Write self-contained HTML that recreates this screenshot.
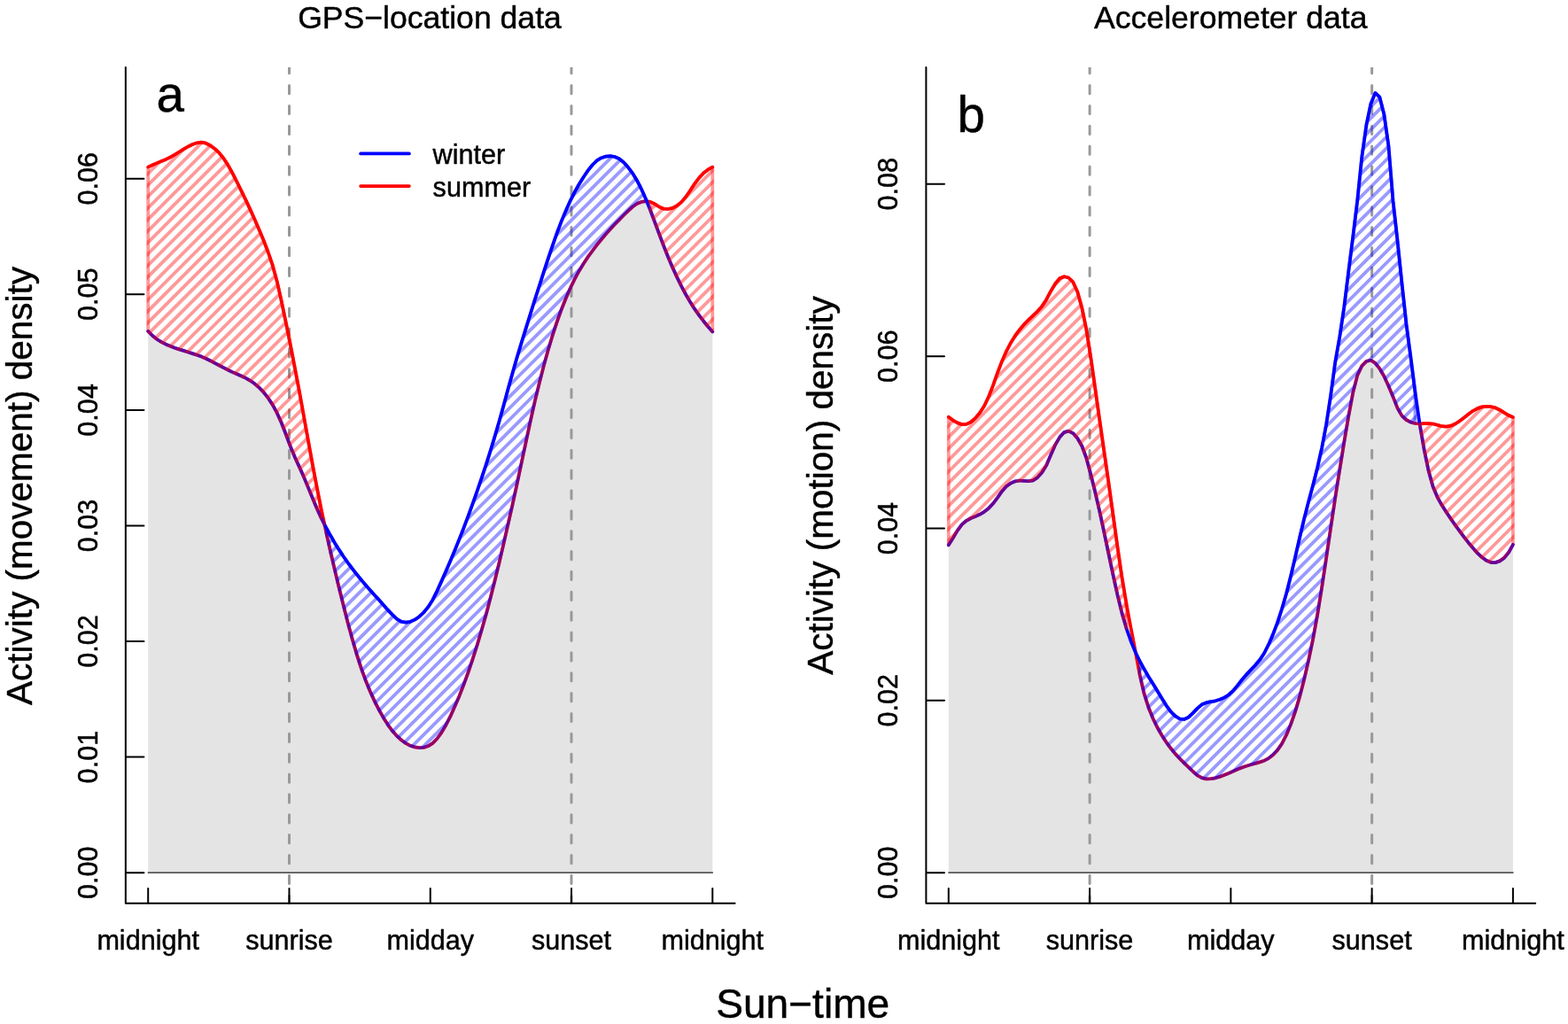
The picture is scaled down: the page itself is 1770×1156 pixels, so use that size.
<!DOCTYPE html>
<html lang="en"><head><meta charset="utf-8"><title>Activity density: GPS-location vs accelerometer data</title>
<style>
html,body{margin:0;padding:0;background:#fff;}
body{width:1770px;height:1156px;overflow:hidden;font-family:"Liberation Sans",Arial,Helvetica,sans-serif;}
svg{display:block;}
text{font-family:"Liberation Sans",Arial,Helvetica,sans-serif;stroke:#000;stroke-width:0.45px;stroke-linejoin:round;}
</style></head><body>
<svg width="1770" height="1156" viewBox="0 0 1770 1156" font-family="'Liberation Sans', Arial, Helvetica, sans-serif" fill="#000">
<defs><clipPath id="plotclip"><rect x="0" y="76" width="1770" height="945.0"/></clipPath>
<path id="pmar0" d="M167.2,188.6L172.2,186.3L177.2,184.1L182.2,182L187.3,179.9L192.3,177.5L197.3,174.7L202.3,171.5L207.3,168.4L212.3,165.5L217.4,163L222.4,161.3L227.4,160.7L232.4,161.7L237.4,164.2L242.4,167.9L247.5,172.7L252.5,178.9L257.5,186.6L262.5,195.7L267.5,205.5L272.5,215.7L277.6,226.1L282.6,236.9L287.6,248L292.6,259.5L297.6,271.5L302.6,284.5L307.7,299.4L312.7,317.7L317.7,339.9L322.7,363.8L327.7,388.7L332.7,414.6L337.8,441.4L342.8,469L347.8,496.8L352.8,524.3L357.8,550.7L362.8,575.9L366.2,591.8L366.2,591.8L362.8,585.1L357.8,574.2L352.8,562.3L347.8,550.1L342.8,538.1L337.8,526.9L332.7,515.7L327.7,503.6L322.7,490.2L317.7,477.3L312.7,466.2L307.7,456.9L302.6,449.2L297.6,442.8L292.6,437.6L287.6,433.3L282.6,429.8L277.6,426.9L272.5,424.5L267.5,422.3L262.5,420.1L257.5,417.7L252.5,415.1L247.5,412.5L242.4,409.8L237.4,407.2L232.4,404.8L227.4,402.6L222.4,400.7L217.4,399.1L212.3,397.5L207.3,395.9L202.3,394.4L197.3,392.7L192.3,390.8L187.3,388.7L182.2,386.1L177.2,383L172.2,379L167.2,373.9Z"/>
<clipPath id="mar0"><use href="#pmar0"/><use href="#pmar0" transform="translate(1.34,-1.34)"/><use href="#pmar0" transform="translate(-1.34,1.34)"/><use href="#pmar0" transform="translate(0.67,-0.67)"/><use href="#pmar0" transform="translate(-0.67,0.67)"/></clipPath>
<path id="pmar1" d="M734.1,227.9L739.1,230.3L744.1,233.5L749.1,235.7L754.1,236L759.2,234.8L764.2,232.2L769.2,228.1L774.2,222.2L779.2,215L784.2,207.3L789.3,200.6L794.3,195.3L799.3,191.4L804.3,188.6L804.3,374.4L799.3,368.8L794.3,362.7L789.3,356.1L784.2,348.9L779.2,341.1L774.2,332.5L769.2,323.1L764.2,312.9L759.2,301.9L754.1,290L749.1,277.3L744.1,264.1L739.1,250.7L734.1,237.3Z"/>
<clipPath id="mar1"><use href="#pmar1"/><use href="#pmar1" transform="translate(1.34,-1.34)"/><use href="#pmar1" transform="translate(-1.34,1.34)"/><use href="#pmar1" transform="translate(0.67,-0.67)"/><use href="#pmar1" transform="translate(-0.67,0.67)"/></clipPath>
<path id="pmab0" d="M367.9,595.1L372.9,604.3L377.9,612.9L382.9,620.9L387.9,628.5L392.9,635.6L398,642.4L403,648.8L408,654.9L413,660.8L418,666.4L423,672L428.1,677.6L433.1,683.2L438.1,688.9L443.1,694.1L448.1,698.8L453.1,701.8L458.2,702.7L463.2,701.8L468.2,699.6L473.2,696.2L478.2,691.5L483.2,685.4L488.3,677.4L493.3,667.4L498.3,656.4L503.3,645.1L508.3,633.4L513.3,621.4L518.4,608.9L523.4,596.1L528.4,582.9L533.4,569.2L538.4,555L543.4,540.4L548.5,525.2L553.5,509.4L558.5,492.9L563.5,475.7L568.5,457.7L573.5,439.2L578.6,420.9L583.6,403.5L588.6,387L593.6,370.9L598.6,354.8L603.6,338.8L608.7,323L613.7,307.4L618.7,292.2L623.7,277.4L628.7,263.2L633.7,249.9L638.8,237.7L643.8,226.6L648.8,216.6L653.8,207.7L658.8,199.7L663.8,192.4L668.9,186L673.9,181.2L678.9,178.2L683.9,176.6L688.9,176.1L693.9,177L699,179.3L704,183.3L709,188.8L714,195.5L719,203.7L724,213.4L729.1,224.7L729.1,227.2L724,227.9L719,230L714,233.5L709,238.1L704,243L699,248.1L693.9,253.3L688.9,258.7L683.9,264.3L678.9,270.2L673.9,276.4L668.9,283L663.8,289.9L658.8,297.5L653.8,305.7L648.8,314.9L643.8,325.2L638.8,336.7L633.7,349.5L628.7,363.4L623.7,378.7L618.7,395.3L613.7,413.4L608.7,432.9L603.6,453.8L598.6,476.1L593.6,499.3L588.6,522.9L583.6,546.3L578.6,569.4L573.5,591.9L568.5,613.9L563.5,635.2L558.5,655.8L553.5,675.6L548.5,694.4L543.4,712.2L538.4,729L533.4,744.7L528.4,759.4L523.4,773.1L518.4,785.9L513.3,797.8L508.3,808.9L503.3,818.7L498.3,827.1L493.3,834L488.3,839.1L483.2,842.3L478.2,843.9L473.2,844.1L468.2,843.4L463.2,841.8L458.2,839.1L453.1,835.5L448.1,830.9L443.1,825.3L438.1,818.6L433.1,810.7L428.1,801.8L423,791.9L418,781L413,768.8L408,755.1L403,739.7L398,722.6L392.9,704L387.9,684.3L382.9,664.2L377.9,643.4L372.9,622L367.9,599.6Z"/>
<clipPath id="mab0"><use href="#pmab0"/><use href="#pmab0" transform="translate(1.34,-1.34)"/><use href="#pmab0" transform="translate(-1.34,1.34)"/><use href="#pmab0" transform="translate(0.67,-0.67)"/><use href="#pmab0" transform="translate(-0.67,0.67)"/></clipPath>
<path id="pmbr0" d="M1070.8,470.7L1075.8,474.6L1080.8,477.4L1085.8,479.1L1090.9,478.9L1095.9,476.5L1100.9,472.1L1105.9,466.2L1110.9,458.5L1115.9,448.2L1121,435.1L1126,420.9L1131,407.9L1136,396.6L1141,387L1146,378.9L1151.1,372L1156.1,366.1L1161.1,361L1166.1,356.4L1171.1,351.6L1176.1,345.9L1181.2,338.2L1186.2,328.7L1191.2,320.3L1196.2,314.3L1201.2,312.2L1206.2,313.5L1211.3,318.4L1216.3,329.6L1221.3,347.5L1226.3,371.9L1231.3,403.5L1236.3,438.7L1241.4,475L1246.4,510L1251.4,544.7L1256.4,580.8L1261.4,617.1L1266.4,651.2L1271.5,681.8L1271.5,709.3L1266.4,691.9L1261.4,671.4L1256.4,648.7L1251.4,625L1246.4,601.1L1241.4,577.8L1236.3,555.8L1231.3,535.5L1226.3,517L1221.3,503.5L1216.3,494.8L1211.3,489.1L1206.2,486.6L1201.2,488.1L1196.2,493.6L1191.2,502.1L1186.2,513.6L1181.2,525.3L1176.1,533.5L1171.1,539.1L1166.1,542.3L1161.1,543.1L1156.1,542.8L1151.1,542.5L1146,543.3L1141,545.4L1136,549.1L1131,554.7L1126,561.8L1121,568.5L1115.9,573.9L1110.9,577.8L1105.9,580.8L1100.9,583.1L1095.9,585L1090.9,587.8L1085.8,592.1L1080.8,598.9L1075.8,607.3L1070.8,615.3Z"/>
<clipPath id="mbr0"><use href="#pmbr0"/><use href="#pmbr0" transform="translate(1.34,-1.34)"/><use href="#pmbr0" transform="translate(-1.34,1.34)"/><use href="#pmbr0" transform="translate(0.67,-0.67)"/><use href="#pmbr0" transform="translate(-0.67,0.67)"/></clipPath>
<path id="pmbr1" d="M1602.6,478.3L1607.6,478.1L1612.6,478L1617.6,478.5L1622.6,479.8L1627.6,481.2L1632.7,481.7L1637.7,480.7L1642.7,478.5L1647.7,475.3L1652.7,471.5L1657.7,467.5L1662.8,463.8L1667.8,461.1L1672.8,459.4L1677.8,458.8L1682.8,459L1687.8,460.3L1692.9,462.7L1697.9,465.8L1702.9,468.8L1707.9,471L1707.9,614.8L1702.9,623.8L1697.9,629.9L1692.9,633.4L1687.8,635.1L1682.8,634.8L1677.8,632.7L1672.8,629.1L1667.8,624.4L1662.8,618.8L1657.7,612.7L1652.7,606.4L1647.7,599.7L1642.7,592.8L1637.7,585.6L1632.7,578.2L1627.6,570.3L1622.6,561.3L1617.6,549.4L1612.6,531.6L1607.6,507.4L1602.6,478.8Z"/>
<clipPath id="mbr1"><use href="#pmbr1"/><use href="#pmbr1" transform="translate(1.34,-1.34)"/><use href="#pmbr1" transform="translate(-1.34,1.34)"/><use href="#pmbr1" transform="translate(0.67,-0.67)"/><use href="#pmbr1" transform="translate(-0.67,0.67)"/></clipPath>
<path id="pmbb0" d="M1286.5,746.1L1291.5,755.3L1296.5,763.9L1301.6,772.1L1306.6,780.3L1311.6,788.5L1316.6,796.6L1321.6,803.4L1326.6,808.4L1331.7,811.5L1336.7,812L1341.7,809.7L1346.7,804.9L1351.7,799.6L1356.7,795.3L1361.8,793.2L1366.8,792.2L1371.8,791.3L1376.8,789.8L1381.8,787.6L1386.8,784.5L1391.9,779.9L1396.9,773.9L1401.9,767.4L1406.9,761.6L1411.9,756.3L1416.9,751L1422,745.1L1427,737.5L1432,727.7L1437,716.1L1442,702.8L1447,687.5L1452.1,670L1457.1,650.3L1462.1,628.8L1467.1,607L1472.1,585.9L1477.1,566.4L1482.2,547.5L1487.2,527.7L1492.2,505.3L1497.2,478.9L1502.2,446L1507.2,409.1L1512.3,380L1517.3,346.5L1522.3,306.3L1527.3,267.1L1532.3,226L1537.3,177.2L1542.4,141.2L1547.4,117.2L1552.4,104.9L1557.4,109.7L1562.4,129.2L1567.4,164.4L1572.5,226.7L1577.5,271.6L1582.5,319.9L1587.5,365.9L1592.5,403.7L1597.5,442.9L1597.5,478L1592.5,476.7L1587.5,474L1582.5,469.4L1577.5,460.6L1572.5,447.9L1567.4,435.7L1562.4,424.7L1557.4,416.2L1552.4,409.9L1547.4,406.7L1542.4,407.9L1537.3,413.1L1532.3,423.6L1527.3,443.1L1522.3,469.6L1517.3,499.1L1512.3,530L1507.2,562.2L1502.2,595.5L1497.2,629.5L1492.2,662.8L1487.2,693.6L1482.2,721.2L1477.1,745.6L1472.1,767.3L1467.1,786.6L1462.1,803.4L1457.1,817.6L1452.1,829.7L1447,839.6L1442,846.9L1437,852.3L1432,856.1L1427,858.7L1422,860.4L1416.9,861.9L1411.9,863.2L1406.9,864.8L1401.9,866.6L1396.9,868.5L1391.9,870.7L1386.8,872.9L1381.8,875L1376.8,876.9L1371.8,878.3L1366.8,879.2L1361.8,879.3L1356.7,878.1L1351.7,875.3L1346.7,871L1341.7,866.2L1336.7,861.3L1331.7,856.3L1326.6,850.9L1321.6,844.8L1316.6,838L1311.6,830.3L1306.6,821.5L1301.6,811.3L1296.5,798.8L1291.5,782.9L1286.5,761.3Z"/>
<clipPath id="mbb0"><use href="#pmbb0"/><use href="#pmbb0" transform="translate(1.34,-1.34)"/><use href="#pmbb0" transform="translate(-1.34,1.34)"/><use href="#pmbb0" transform="translate(0.67,-0.67)"/><use href="#pmbb0" transform="translate(-0.67,0.67)"/></clipPath></defs>
<rect width="1770" height="1156" fill="#fff"/>
<g id="panel-a">
<path d="M167.2,373.9L172.2,379L177.2,383L182.2,386.1L187.3,388.7L192.3,390.8L197.3,392.7L202.3,394.4L207.3,395.9L212.3,397.5L217.4,399.1L222.4,400.7L227.4,402.6L232.4,404.8L237.4,407.2L242.4,409.8L247.5,412.5L252.5,415.1L257.5,417.7L262.5,420.1L267.5,422.3L272.5,424.5L277.6,426.9L282.6,429.8L287.6,433.3L292.6,437.6L297.6,442.8L302.6,449.2L307.7,456.9L312.7,466.2L317.7,477.3L322.7,490.2L327.7,503.6L332.7,515.7L337.8,526.9L342.8,538.1L347.8,550.1L352.8,562.3L357.8,574.2L362.8,585.1L367.9,599.6L372.9,622L377.9,643.4L382.9,664.2L387.9,684.3L392.9,704L398,722.6L403,739.7L408,755.1L413,768.8L418,781L423,791.9L428.1,801.8L433.1,810.7L438.1,818.6L443.1,825.3L448.1,830.9L453.1,835.5L458.2,839.1L463.2,841.8L468.2,843.4L473.2,844.1L478.2,843.9L483.2,842.3L488.3,839.1L493.3,834L498.3,827.1L503.3,818.7L508.3,808.9L513.3,797.8L518.4,785.9L523.4,773.1L528.4,759.4L533.4,744.7L538.4,729L543.4,712.2L548.5,694.4L553.5,675.6L558.5,655.8L563.5,635.2L568.5,613.9L573.5,591.9L578.6,569.4L583.6,546.3L588.6,522.9L593.6,499.3L598.6,476.1L603.6,453.8L608.7,432.9L613.7,413.4L618.7,395.3L623.7,378.7L628.7,363.4L633.7,349.5L638.8,336.7L643.8,325.2L648.8,314.9L653.8,305.7L658.8,297.5L663.8,289.9L668.9,283L673.9,276.4L678.9,270.2L683.9,264.3L688.9,258.7L693.9,253.3L699,248.1L704,243L709,238.1L714,233.5L719,230L724,227.9L729.1,227.2L734.1,237.3L739.1,250.7L744.1,264.1L749.1,277.3L754.1,290L759.2,301.9L764.2,312.9L769.2,323.1L774.2,332.5L779.2,341.1L784.2,348.9L789.3,356.1L794.3,362.7L799.3,368.8L804.3,374.4L804.3,985.2L167.2,985.2Z" fill="#e4e4e4"/>
<line x1="166.7" y1="985.2" x2="804.9" y2="985.2" stroke="#1a1a1a" stroke-width="1.2"/>
<line x1="326.5" y1="1020.4" x2="326.5" y2="70" stroke="#999999" stroke-width="3.0" stroke-dasharray="9.2 13.667" stroke-linecap="round" clip-path="url(#plotclip)"/>
<line x1="645.0" y1="1020.4" x2="645.0" y2="70" stroke="#999999" stroke-width="3.0" stroke-dasharray="9.2 13.667" stroke-linecap="round" clip-path="url(#plotclip)"/>
<path d="M167.2,188.6L172.2,186.3L177.2,184.1L182.2,182L187.3,179.9L192.3,177.5L197.3,174.7L202.3,171.5L207.3,168.4L212.3,165.5L217.4,163L222.4,161.3L227.4,160.7L232.4,161.7L237.4,164.2L242.4,167.9L247.5,172.7L252.5,178.9L257.5,186.6L262.5,195.7L267.5,205.5L272.5,215.7L277.6,226.1L282.6,236.9L287.6,248L292.6,259.5L297.6,271.5L302.6,284.5L307.7,299.4L312.7,317.7L317.7,339.9L322.7,363.8L327.7,388.7L332.7,414.6L337.8,441.4L342.8,469L347.8,496.8L352.8,524.3L357.8,550.7L362.8,575.9L367.9,599.6L372.9,622L377.9,643.4L382.9,664.2L387.9,684.3L392.9,704L398,722.6L403,739.7L408,755.1L413,768.8L418,781L423,791.9L428.1,801.8L433.1,810.7L438.1,818.6L443.1,825.3L448.1,830.9L453.1,835.5L458.2,839.1L463.2,841.8L468.2,843.4L473.2,844.1L478.2,843.9L483.2,842.3L488.3,839.1L493.3,834L498.3,827.1L503.3,818.7L508.3,808.9L513.3,797.8L518.4,785.9L523.4,773.1L528.4,759.4L533.4,744.7L538.4,729L543.4,712.2L548.5,694.4L553.5,675.6L558.5,655.8L563.5,635.2L568.5,613.9L573.5,591.9L578.6,569.4L583.6,546.3L588.6,522.9L593.6,499.3L598.6,476.1L603.6,453.8L608.7,432.9L613.7,413.4L618.7,395.3L623.7,378.7L628.7,363.4L633.7,349.5L638.8,336.7L643.8,325.2L648.8,314.9L653.8,305.7L658.8,297.5L663.8,289.9L668.9,283L673.9,276.4L678.9,270.2L683.9,264.3L688.9,258.7L693.9,253.3L699,248.1L704,243L709,238.1L714,233.5L719,230L724,227.9L729.1,227.2L734.1,227.9L739.1,230.3L744.1,233.5L749.1,235.7L754.1,236L759.2,234.8L764.2,232.2L769.2,228.1L774.2,222.2L779.2,215L784.2,207.3L789.3,200.6L794.3,195.3L799.3,191.4L804.3,188.6" fill="none" stroke="#f00" stroke-width="3.75" stroke-linejoin="round" stroke-linecap="round"/>
<path d="M167.2,373.9L172.2,379L177.2,383L182.2,386.1L187.3,388.7L192.3,390.8L197.3,392.7L202.3,394.4L207.3,395.9L212.3,397.5L217.4,399.1L222.4,400.7L227.4,402.6L232.4,404.8L237.4,407.2L242.4,409.8L247.5,412.5L252.5,415.1L257.5,417.7L262.5,420.1L267.5,422.3L272.5,424.5L277.6,426.9L282.6,429.8L287.6,433.3L292.6,437.6L297.6,442.8L302.6,449.2L307.7,456.9L312.7,466.2L317.7,477.3L322.7,490.2L327.7,503.6L332.7,515.7L337.8,526.9L342.8,538.1L347.8,550.1L352.8,562.3L357.8,574.2L362.8,585.1L367.9,595.1L372.9,604.3L377.9,612.9L382.9,620.9L387.9,628.5L392.9,635.6L398,642.4L403,648.8L408,654.9L413,660.8L418,666.4L423,672L428.1,677.6L433.1,683.2L438.1,688.9L443.1,694.1L448.1,698.8L453.1,701.8L458.2,702.7L463.2,701.8L468.2,699.6L473.2,696.2L478.2,691.5L483.2,685.4L488.3,677.4L493.3,667.4L498.3,656.4L503.3,645.1L508.3,633.4L513.3,621.4L518.4,608.9L523.4,596.1L528.4,582.9L533.4,569.2L538.4,555L543.4,540.4L548.5,525.2L553.5,509.4L558.5,492.9L563.5,475.7L568.5,457.7L573.5,439.2L578.6,420.9L583.6,403.5L588.6,387L593.6,370.9L598.6,354.8L603.6,338.8L608.7,323L613.7,307.4L618.7,292.2L623.7,277.4L628.7,263.2L633.7,249.9L638.8,237.7L643.8,226.6L648.8,216.6L653.8,207.7L658.8,199.7L663.8,192.4L668.9,186L673.9,181.2L678.9,178.2L683.9,176.6L688.9,176.1L693.9,177L699,179.3L704,183.3L709,188.8L714,195.5L719,203.7L724,213.4L729.1,224.7L734.1,237.3L739.1,250.7L744.1,264.1L749.1,277.3L754.1,290L759.2,301.9L764.2,312.9L769.2,323.1L774.2,332.5L779.2,341.1L784.2,348.9L789.3,356.1L794.3,362.7L799.3,368.8L804.3,374.4" fill="none" stroke="#00f" stroke-width="3.75" stroke-linejoin="round" stroke-linecap="round"/>
<path d="M163.2,161.0L167.6,156.6M163.2,174.0L180.5,156.7M163.2,186.9L193.5,156.6M163.2,199.9L206.4,156.7M163.2,212.8L219.3,156.7M163.2,225.7L232.3,156.6M163.2,238.7L245.2,156.7M163.2,251.6L258.2,156.6M163.2,264.6L271.1,156.7M163.2,277.5L284,156.7M163.2,290.4L297,156.6M163.2,303.4L309.9,156.7M163.2,316.3L322.9,156.6M163.2,329.3L335.8,156.7M163.2,342.2L348.7,156.7M163.2,355.1L361.7,156.6M163.2,368.1L370.2,161.1M163.2,381.0L370.2,174.0M163.2,394.0L370.2,187.0M163.2,406.9L370.2,199.9M163.2,419.8L370.2,212.8M163.2,432.8L370.2,225.8M163.2,445.7L370.2,238.7M163.2,458.7L370.2,251.7M163.2,471.6L370.2,264.6M163.2,484.5L370.2,277.5M163.2,497.5L370.2,290.5M163.2,510.4L370.2,303.4M163.2,523.4L370.2,316.4M163.2,536.3L370.2,329.3M163.2,549.2L370.2,342.2M163.2,562.2L370.2,355.2M163.2,575.1L370.2,368.1M163.2,588.1L370.2,381.1M168.4,595.8L370.2,394.0M181.3,595.8L370.2,406.9M194.3,595.8L370.2,419.9M207.2,595.8L370.2,432.8M220.2,595.8L370.2,445.8M233.1,595.8L370.2,458.7M246,595.8L370.2,471.6M259,595.8L370.2,484.6M271.9,595.8L370.2,497.5M284.9,595.8L370.2,510.5M297.8,595.8L370.2,523.4M310.7,595.8L370.2,536.3M323.7,595.8L370.2,549.3M336.6,595.8L370.2,562.2M349.6,595.8L370.2,575.2M362.5,595.8L370.2,588.1" fill="none" stroke="#f00" stroke-opacity="0.4" stroke-width="3.8" clip-path="url(#mar0)"/>
<use href="#pmar0" fill="none" stroke="#f00" stroke-opacity="0.4" stroke-width="3.8" stroke-linejoin="round"/>
<path d="M730.1,189.4L734.9,184.6M730.1,202.3L747.8,184.6M730.1,215.3L760.8,184.6M730.1,228.2L773.7,184.6M730.1,241.1L786.6,184.6M730.1,254.1L799.6,184.6M730.1,267.0L808.3,188.8M730.1,280.0L808.3,201.8M730.1,292.9L808.3,214.7M730.1,305.8L808.3,227.6M730.1,318.8L808.3,240.6M730.1,331.7L808.3,253.5M730.1,344.7L808.3,266.5M730.1,357.6L808.3,279.4M730.1,370.5L808.3,292.3M735.2,378.4L808.3,305.3M748.1,378.4L808.3,318.2M761.1,378.4L808.3,331.2M774,378.4L808.3,344.1M786.9,378.4L808.3,357.0M799.9,378.4L808.3,370.0" fill="none" stroke="#f00" stroke-opacity="0.4" stroke-width="3.8" clip-path="url(#mar1)"/>
<use href="#pmar1" fill="none" stroke="#f00" stroke-opacity="0.4" stroke-width="3.8" stroke-linejoin="round"/>
<path d="M363.9,180.3L372.1,172.1M363.9,193.3L385,172.2M363.9,206.2L398,172.1M363.9,219.1L410.9,172.1M363.9,232.1L423.8,172.2M363.9,245.0L436.8,172.1M363.9,258.0L449.7,172.2M363.9,270.9L462.7,172.1M363.9,283.8L475.6,172.1M363.9,296.8L488.5,172.2M363.9,309.7L501.5,172.1M363.9,322.7L514.4,172.2M363.9,335.6L527.4,172.1M363.9,348.5L540.3,172.1M363.9,361.5L553.2,172.2M363.9,374.4L566.2,172.1M363.9,387.4L579.1,172.2M363.9,400.3L592.1,172.1M363.9,413.2L605,172.1M363.9,426.2L617.9,172.2M363.9,439.1L630.9,172.1M363.9,452.1L643.8,172.2M363.9,465.0L656.8,172.1M363.9,477.9L669.7,172.1M363.9,490.9L682.6,172.2M363.9,503.8L695.6,172.1M363.9,516.8L708.5,172.2M363.9,529.7L721.5,172.1M363.9,542.6L733.1,173.4M363.9,555.6L733.1,186.4M363.9,568.5L733.1,199.3M363.9,581.5L733.1,212.3M363.9,594.4L733.1,225.2M363.9,607.3L733.1,238.1M363.9,620.3L733.1,251.1M363.9,633.2L733.1,264.0M363.9,646.2L733.1,277.0M363.9,659.1L733.1,289.9M363.9,672.0L733.1,302.8M363.9,685.0L733.1,315.8M363.9,697.9L733.1,328.7M363.9,710.9L733.1,341.7M363.9,723.8L733.1,354.6M363.9,736.7L733.1,367.5M363.9,749.7L733.1,380.5M363.9,762.6L733.1,393.4M363.9,775.6L733.1,406.4M363.9,788.5L733.1,419.3M363.9,801.4L733.1,432.2M363.9,814.4L733.1,445.2M363.9,827.3L733.1,458.1M363.9,840.3L733.1,471.1M369,848.1L733.1,484.0M381.9,848.1L733.1,496.9M394.8,848.2L733.1,509.9M407.8,848.1L733.1,522.8M420.7,848.2L733.1,535.8M433.7,848.1L733.1,548.7M446.6,848.1L733.1,561.6M459.5,848.2L733.1,574.6M472.5,848.1L733.1,587.5M485.4,848.2L733.1,600.5M498.4,848.1L733.1,613.4M511.3,848.1L733.1,626.3M524.2,848.2L733.1,639.3M537.2,848.1L733.1,652.2M550.1,848.2L733.1,665.2M563.1,848.1L733.1,678.1M576,848.1L733.1,691.0M588.9,848.2L733.1,704.0M601.9,848.1L733.1,716.9M614.8,848.2L733.1,729.9M627.8,848.1L733.1,742.8M640.7,848.1L733.1,755.7M653.6,848.2L733.1,768.7M666.6,848.1L733.1,781.6M679.5,848.2L733.1,794.6M692.5,848.1L733.1,807.5M705.4,848.1L733.1,820.4M718.3,848.2L733.1,833.4M731.3,848.1L733.1,846.3" fill="none" stroke="#00f" stroke-opacity="0.4" stroke-width="3.8" clip-path="url(#mab0)"/>
<use href="#pmab0" fill="none" stroke="#00f" stroke-opacity="0.4" stroke-width="3.8" stroke-linejoin="round"/>
<path d="M141.83,75.9L141.83,1019.8L829.6,1019.8" fill="none" stroke="#000" stroke-width="2.0" stroke-linejoin="round" stroke-linecap="round"/>
<path d="M167.2,1019.20V1002.90M326.48,1019.20V1002.90M485.75,1019.20V1002.90M645.03,1019.20V1002.90M804.3,1019.20V1002.90M142.43,985.20H162.43M142.43,854.62H162.43M142.43,724.04H162.43M142.43,593.46H162.43M142.43,462.88H162.43M142.43,332.30H162.43M142.43,201.72H162.43" fill="none" stroke="#000" stroke-width="2.0" stroke-linecap="round"/>
<text transform="translate(109.83,985.20) rotate(-90)" text-anchor="middle" font-size="30.6">0.00</text>
<text transform="translate(109.83,854.62) rotate(-90)" text-anchor="middle" font-size="30.6">0.01</text>
<text transform="translate(109.83,724.04) rotate(-90)" text-anchor="middle" font-size="30.6">0.02</text>
<text transform="translate(109.83,593.46) rotate(-90)" text-anchor="middle" font-size="30.6">0.03</text>
<text transform="translate(109.83,462.88) rotate(-90)" text-anchor="middle" font-size="30.6">0.04</text>
<text transform="translate(109.83,332.30) rotate(-90)" text-anchor="middle" font-size="30.6">0.05</text>
<text transform="translate(109.83,201.72) rotate(-90)" text-anchor="middle" font-size="30.6">0.06</text>
<text x="167.2" y="1072.3" text-anchor="middle" font-size="30.6">midnight</text>
<text x="326.48" y="1072.3" text-anchor="middle" font-size="30.6">sunrise</text>
<text x="485.75" y="1072.3" text-anchor="middle" font-size="30.6">midday</text>
<text x="645.03" y="1072.3" text-anchor="middle" font-size="30.6">sunset</text>
<text x="804.3" y="1072.3" text-anchor="middle" font-size="30.6">midnight</text>
<text x="485.0" y="31.8" text-anchor="middle" font-size="35.6">GPS−location data</text>
<text transform="translate(36.3,548.5) rotate(-90)" text-anchor="middle" font-size="40.5">Activity (movement) density</text>
<text x="176.4" y="125.9" font-size="56.5">a</text>
</g>
<g id="panel-b">
<path d="M1070.8,615.3L1075.8,607.3L1080.8,598.9L1085.8,592.1L1090.9,587.8L1095.9,585L1100.9,583.1L1105.9,580.8L1110.9,577.8L1115.9,573.9L1121,568.5L1126,561.8L1131,554.7L1136,549.1L1141,545.4L1146,543.3L1151.1,542.5L1156.1,542.8L1161.1,543.1L1166.1,542.3L1171.1,539.1L1176.1,533.5L1181.2,525.3L1186.2,513.6L1191.2,502.1L1196.2,493.6L1201.2,488.1L1206.2,486.6L1211.3,489.1L1216.3,494.8L1221.3,503.5L1226.3,517L1231.3,535.5L1236.3,555.8L1241.4,577.8L1246.4,601.1L1251.4,625L1256.4,648.7L1261.4,671.4L1266.4,691.9L1271.5,709.3L1276.5,723.7L1281.5,735.8L1286.5,761.3L1291.5,782.9L1296.5,798.8L1301.6,811.3L1306.6,821.5L1311.6,830.3L1316.6,838L1321.6,844.8L1326.6,850.9L1331.7,856.3L1336.7,861.3L1341.7,866.2L1346.7,871L1351.7,875.3L1356.7,878.1L1361.8,879.3L1366.8,879.2L1371.8,878.3L1376.8,876.9L1381.8,875L1386.8,872.9L1391.9,870.7L1396.9,868.5L1401.9,866.6L1406.9,864.8L1411.9,863.2L1416.9,861.9L1422,860.4L1427,858.7L1432,856.1L1437,852.3L1442,846.9L1447,839.6L1452.1,829.7L1457.1,817.6L1462.1,803.4L1467.1,786.6L1472.1,767.3L1477.1,745.6L1482.2,721.2L1487.2,693.6L1492.2,662.8L1497.2,629.5L1502.2,595.5L1507.2,562.2L1512.3,530L1517.3,499.1L1522.3,469.6L1527.3,443.1L1532.3,423.6L1537.3,413.1L1542.4,407.9L1547.4,406.7L1552.4,409.9L1557.4,416.2L1562.4,424.7L1567.4,435.7L1572.5,447.9L1577.5,460.6L1582.5,469.4L1587.5,474L1592.5,476.7L1597.5,478L1602.6,478.8L1607.6,507.4L1612.6,531.6L1617.6,549.4L1622.6,561.3L1627.6,570.3L1632.7,578.2L1637.7,585.6L1642.7,592.8L1647.7,599.7L1652.7,606.4L1657.7,612.7L1662.8,618.8L1667.8,624.4L1672.8,629.1L1677.8,632.7L1682.8,634.8L1687.8,635.1L1692.9,633.4L1697.9,629.9L1702.9,623.8L1707.9,614.8L1707.9,985.2L1070.8,985.2Z" fill="#e4e4e4"/>
<line x1="1070.3" y1="985.2" x2="1708.5" y2="985.2" stroke="#1a1a1a" stroke-width="1.2"/>
<line x1="1230.1" y1="1020.4" x2="1230.1" y2="70" stroke="#999999" stroke-width="3.0" stroke-dasharray="9.2 13.667" stroke-linecap="round" clip-path="url(#plotclip)"/>
<line x1="1548.65" y1="1020.4" x2="1548.65" y2="70" stroke="#999999" stroke-width="3.0" stroke-dasharray="9.2 13.667" stroke-linecap="round" clip-path="url(#plotclip)"/>
<path d="M1070.8,470.7L1075.8,474.6L1080.8,477.4L1085.8,479.1L1090.9,478.9L1095.9,476.5L1100.9,472.1L1105.9,466.2L1110.9,458.5L1115.9,448.2L1121,435.1L1126,420.9L1131,407.9L1136,396.6L1141,387L1146,378.9L1151.1,372L1156.1,366.1L1161.1,361L1166.1,356.4L1171.1,351.6L1176.1,345.9L1181.2,338.2L1186.2,328.7L1191.2,320.3L1196.2,314.3L1201.2,312.2L1206.2,313.5L1211.3,318.4L1216.3,329.6L1221.3,347.5L1226.3,371.9L1231.3,403.5L1236.3,438.7L1241.4,475L1246.4,510L1251.4,544.7L1256.4,580.8L1261.4,617.1L1266.4,651.2L1271.5,681.8L1276.5,708.7L1281.5,734.4L1286.5,761.3L1291.5,782.9L1296.5,798.8L1301.6,811.3L1306.6,821.5L1311.6,830.3L1316.6,838L1321.6,844.8L1326.6,850.9L1331.7,856.3L1336.7,861.3L1341.7,866.2L1346.7,871L1351.7,875.3L1356.7,878.1L1361.8,879.3L1366.8,879.2L1371.8,878.3L1376.8,876.9L1381.8,875L1386.8,872.9L1391.9,870.7L1396.9,868.5L1401.9,866.6L1406.9,864.8L1411.9,863.2L1416.9,861.9L1422,860.4L1427,858.7L1432,856.1L1437,852.3L1442,846.9L1447,839.6L1452.1,829.7L1457.1,817.6L1462.1,803.4L1467.1,786.6L1472.1,767.3L1477.1,745.6L1482.2,721.2L1487.2,693.6L1492.2,662.8L1497.2,629.5L1502.2,595.5L1507.2,562.2L1512.3,530L1517.3,499.1L1522.3,469.6L1527.3,443.1L1532.3,423.6L1537.3,413.1L1542.4,407.9L1547.4,406.7L1552.4,409.9L1557.4,416.2L1562.4,424.7L1567.4,435.7L1572.5,447.9L1577.5,460.6L1582.5,469.4L1587.5,474L1592.5,476.7L1597.5,478L1602.6,478.3L1607.6,478.1L1612.6,478L1617.6,478.5L1622.6,479.8L1627.6,481.2L1632.7,481.7L1637.7,480.7L1642.7,478.5L1647.7,475.3L1652.7,471.5L1657.7,467.5L1662.8,463.8L1667.8,461.1L1672.8,459.4L1677.8,458.8L1682.8,459L1687.8,460.3L1692.9,462.7L1697.9,465.8L1702.9,468.8L1707.9,471" fill="none" stroke="#f00" stroke-width="3.75" stroke-linejoin="round" stroke-linecap="round"/>
<path d="M1070.8,615.3L1075.8,607.3L1080.8,598.9L1085.8,592.1L1090.9,587.8L1095.9,585L1100.9,583.1L1105.9,580.8L1110.9,577.8L1115.9,573.9L1121,568.5L1126,561.8L1131,554.7L1136,549.1L1141,545.4L1146,543.3L1151.1,542.5L1156.1,542.8L1161.1,543.1L1166.1,542.3L1171.1,539.1L1176.1,533.5L1181.2,525.3L1186.2,513.6L1191.2,502.1L1196.2,493.6L1201.2,488.1L1206.2,486.6L1211.3,489.1L1216.3,494.8L1221.3,503.5L1226.3,517L1231.3,535.5L1236.3,555.8L1241.4,577.8L1246.4,601.1L1251.4,625L1256.4,648.7L1261.4,671.4L1266.4,691.9L1271.5,709.3L1276.5,723.7L1281.5,735.8L1286.5,746.1L1291.5,755.3L1296.5,763.9L1301.6,772.1L1306.6,780.3L1311.6,788.5L1316.6,796.6L1321.6,803.4L1326.6,808.4L1331.7,811.5L1336.7,812L1341.7,809.7L1346.7,804.9L1351.7,799.6L1356.7,795.3L1361.8,793.2L1366.8,792.2L1371.8,791.3L1376.8,789.8L1381.8,787.6L1386.8,784.5L1391.9,779.9L1396.9,773.9L1401.9,767.4L1406.9,761.6L1411.9,756.3L1416.9,751L1422,745.1L1427,737.5L1432,727.7L1437,716.1L1442,702.8L1447,687.5L1452.1,670L1457.1,650.3L1462.1,628.8L1467.1,607L1472.1,585.9L1477.1,566.4L1482.2,547.5L1487.2,527.7L1492.2,505.3L1497.2,478.9L1502.2,446L1507.2,409.1L1512.3,380L1517.3,346.5L1522.3,306.3L1527.3,267.1L1532.3,226L1537.3,177.2L1542.4,141.2L1547.4,117.2L1552.4,104.9L1557.4,109.7L1562.4,129.2L1567.4,164.4L1572.5,226.7L1577.5,271.6L1582.5,319.9L1587.5,365.9L1592.5,403.7L1597.5,442.9L1602.6,478.8L1607.6,507.4L1612.6,531.6L1617.6,549.4L1622.6,561.3L1627.6,570.3L1632.7,578.2L1637.7,585.6L1642.7,592.8L1647.7,599.7L1652.7,606.4L1657.7,612.7L1662.8,618.8L1667.8,624.4L1672.8,629.1L1677.8,632.7L1682.8,634.8L1687.8,635.1L1692.9,633.4L1697.9,629.9L1702.9,623.8L1707.9,614.8" fill="none" stroke="#00f" stroke-width="3.75" stroke-linejoin="round" stroke-linecap="round"/>
<path d="M1066.8,316.3L1074.9,308.2M1066.8,329.3L1087.9,308.2M1066.8,342.2L1100.8,308.2M1066.8,355.1L1113.8,308.1M1066.8,368.1L1126.7,308.2M1066.8,381.0L1139.6,308.2M1066.8,394.0L1152.6,308.2M1066.8,406.9L1165.5,308.2M1066.8,419.8L1178.5,308.1M1066.8,432.8L1191.4,308.2M1066.8,445.7L1204.3,308.2M1066.8,458.7L1217.3,308.2M1066.8,471.6L1230.2,308.2M1066.8,484.5L1243.2,308.1M1066.8,497.5L1256.1,308.2M1066.8,510.4L1269,308.2M1066.8,523.4L1275.5,314.7M1066.8,536.3L1275.5,327.6M1066.8,549.2L1275.5,340.5M1066.8,562.2L1275.5,353.5M1066.8,575.1L1275.5,366.4M1066.8,588.1L1275.5,379.4M1066.8,601.0L1275.5,392.3M1066.8,613.9L1275.5,405.2M1066.8,626.9L1275.5,418.2M1066.8,639.8L1275.5,431.1M1066.8,652.8L1275.5,444.1M1066.8,665.7L1275.5,457.0M1066.8,678.6L1275.5,469.9M1066.8,691.6L1275.5,482.9M1066.8,704.5L1275.5,495.8M1071,713.3L1275.5,508.8M1083.9,713.3L1275.5,521.7M1096.9,713.2L1275.5,534.6M1109.8,713.3L1275.5,547.6M1122.8,713.2L1275.5,560.5M1135.7,713.3L1275.5,573.5M1148.6,713.3L1275.5,586.4M1161.6,713.2L1275.5,599.3M1174.5,713.3L1275.5,612.3M1187.5,713.2L1275.5,625.2M1200.4,713.3L1275.5,638.2M1213.3,713.3L1275.5,651.1M1226.3,713.2L1275.5,664.0M1239.2,713.3L1275.5,677.0M1252.2,713.2L1275.5,689.9M1265.1,713.3L1275.5,702.9" fill="none" stroke="#f00" stroke-opacity="0.4" stroke-width="3.8" clip-path="url(#mbr0)"/>
<use href="#pmbr0" fill="none" stroke="#f00" stroke-opacity="0.4" stroke-width="3.8" stroke-linejoin="round"/>
<path d="M1598.6,457.4L1601.2,454.8M1598.6,470.3L1614.2,454.7M1598.6,483.3L1627.1,454.8M1598.6,496.2L1640,454.8M1598.6,509.2L1653,454.8M1598.6,522.1L1665.9,454.8M1598.6,535.0L1678.9,454.7M1598.6,548.0L1691.8,454.8M1598.6,560.9L1704.7,454.8M1598.6,573.9L1711.9,460.6M1598.6,586.8L1711.9,473.5M1598.6,599.7L1711.9,486.4M1598.6,612.7L1711.9,499.4M1598.6,625.6L1711.9,512.3M1598.6,638.6L1711.9,525.3M1611,639.1L1711.9,538.2M1624,639.0L1711.9,551.1M1636.9,639.1L1711.9,564.1M1649.8,639.1L1711.9,577.0M1662.8,639.1L1711.9,590.0M1675.7,639.1L1711.9,602.9M1688.7,639.0L1711.9,615.8M1701.6,639.1L1711.9,628.8" fill="none" stroke="#f00" stroke-opacity="0.4" stroke-width="3.8" clip-path="url(#mbr1)"/>
<use href="#pmbr1" fill="none" stroke="#f00" stroke-opacity="0.4" stroke-width="3.8" stroke-linejoin="round"/>
<path d="M1282.5,113.6L1295.2,100.9M1282.5,126.5L1308.1,100.9M1282.5,139.4L1321,100.9M1282.5,152.4L1334,100.9M1282.5,165.3L1346.9,100.9M1282.5,178.3L1359.9,100.9M1282.5,191.2L1372.8,100.9M1282.5,204.1L1385.7,100.9M1282.5,217.1L1398.7,100.9M1282.5,230.0L1411.6,100.9M1282.5,243.0L1424.6,100.9M1282.5,255.9L1437.5,100.9M1282.5,268.8L1450.4,100.9M1282.5,281.8L1463.4,100.9M1282.5,294.7L1476.3,100.9M1282.5,307.7L1489.3,100.9M1282.5,320.6L1502.2,100.9M1282.5,333.5L1515.1,100.9M1282.5,346.5L1528.1,100.9M1282.5,359.4L1541,100.9M1282.5,372.4L1554,100.9M1282.5,385.3L1566.9,100.9M1282.5,398.2L1579.8,100.9M1282.5,411.2L1592.8,100.9M1282.5,424.1L1601.5,105.1M1282.5,437.1L1601.5,118.1M1282.5,450.0L1601.5,131.0M1282.5,462.9L1601.5,143.9M1282.5,475.9L1601.5,156.9M1282.5,488.8L1601.5,169.8M1282.5,501.8L1601.5,182.8M1282.5,514.7L1601.5,195.7M1282.5,527.6L1601.5,208.6M1282.5,540.6L1601.5,221.6M1282.5,553.5L1601.5,234.5M1282.5,566.5L1601.5,247.5M1282.5,579.4L1601.5,260.4M1282.5,592.3L1601.5,273.3M1282.5,605.3L1601.5,286.3M1282.5,618.2L1601.5,299.2M1282.5,631.2L1601.5,312.2M1282.5,644.1L1601.5,325.1M1282.5,657.0L1601.5,338.0M1282.5,670.0L1601.5,351.0M1282.5,682.9L1601.5,363.9M1282.5,695.9L1601.5,376.9M1282.5,708.8L1601.5,389.8M1282.5,721.7L1601.5,402.7M1282.5,734.7L1601.5,415.7M1282.5,747.6L1601.5,428.6M1282.5,760.6L1601.5,441.6M1282.5,773.5L1601.5,454.5M1282.5,786.4L1601.5,467.4M1282.5,799.4L1601.5,480.4M1282.5,812.3L1601.5,493.3M1282.5,825.3L1601.5,506.3M1282.5,838.2L1601.5,519.2M1282.5,851.1L1601.5,532.1M1282.5,864.1L1601.5,545.1M1282.5,877.0L1601.5,558.0M1289.2,883.3L1601.5,571.0M1302.1,883.3L1601.5,583.9M1315.1,883.2L1601.5,596.8M1328,883.3L1601.5,609.8M1340.9,883.3L1601.5,622.7M1353.9,883.3L1601.5,635.7M1366.8,883.3L1601.5,648.6M1379.8,883.2L1601.5,661.5M1392.7,883.3L1601.5,674.5M1405.6,883.3L1601.5,687.4M1418.6,883.3L1601.5,700.4M1431.5,883.3L1601.5,713.3M1444.5,883.2L1601.5,726.2M1457.4,883.3L1601.5,739.2M1470.3,883.3L1601.5,752.1M1483.3,883.3L1601.5,765.1M1496.2,883.3L1601.5,778.0M1509.2,883.2L1601.5,790.9M1522.1,883.3L1601.5,803.9M1535,883.3L1601.5,816.8M1548,883.3L1601.5,829.8M1560.9,883.3L1601.5,842.7M1573.9,883.2L1601.5,855.6M1586.8,883.3L1601.5,868.6M1599.7,883.3L1601.5,881.5" fill="none" stroke="#00f" stroke-opacity="0.4" stroke-width="3.8" clip-path="url(#mbb0)"/>
<use href="#pmbb0" fill="none" stroke="#00f" stroke-opacity="0.4" stroke-width="3.8" stroke-linejoin="round"/>
<path d="M1045.4,75.9L1045.4,1019.8L1733.2,1019.8" fill="none" stroke="#000" stroke-width="2.0" stroke-linejoin="round" stroke-linecap="round"/>
<path d="M1070.8,1019.20V1002.90M1230.08,1019.20V1002.90M1389.35,1019.20V1002.90M1548.63,1019.20V1002.90M1707.9,1019.20V1002.90M1046.00,985.20H1066.00M1046.00,790.85H1066.00M1046.00,596.50H1066.00M1046.00,402.15H1066.00M1046.00,207.80H1066.00" fill="none" stroke="#000" stroke-width="2.0" stroke-linecap="round"/>
<text transform="translate(1013.40,985.20) rotate(-90)" text-anchor="middle" font-size="30.6">0.00</text>
<text transform="translate(1013.40,790.85) rotate(-90)" text-anchor="middle" font-size="30.6">0.02</text>
<text transform="translate(1013.40,596.50) rotate(-90)" text-anchor="middle" font-size="30.6">0.04</text>
<text transform="translate(1013.40,402.15) rotate(-90)" text-anchor="middle" font-size="30.6">0.06</text>
<text transform="translate(1013.40,207.80) rotate(-90)" text-anchor="middle" font-size="30.6">0.08</text>
<text x="1070.8" y="1072.3" text-anchor="middle" font-size="30.6">midnight</text>
<text x="1230.08" y="1072.3" text-anchor="middle" font-size="30.6">sunrise</text>
<text x="1389.35" y="1072.3" text-anchor="middle" font-size="30.6">midday</text>
<text x="1548.63" y="1072.3" text-anchor="middle" font-size="30.6">sunset</text>
<text x="1707.9" y="1072.3" text-anchor="middle" font-size="30.6">midnight</text>
<text x="1389.3" y="31.8" text-anchor="middle" font-size="35.6">Accelerometer data</text>
<text transform="translate(939.8,548.0) rotate(-90)" text-anchor="middle" font-size="40.5">Activity (motion) density</text>
<text x="1080.6" y="149.0" font-size="56.5">b</text>
</g>
<g id="legend">
<line x1="407.1" y1="173.4" x2="461.9" y2="173.4" stroke="#0000ff" stroke-width="3.75" stroke-linecap="round"/>
<text x="488.6" y="185.1" font-size="30.6">winter</text>
<line x1="407.1" y1="210.0" x2="461.9" y2="210.0" stroke="#ff0000" stroke-width="3.75" stroke-linecap="round"/>
<text x="488.6" y="221.8" font-size="30.6">summer</text>
</g>
<text x="906.2" y="1149" text-anchor="middle" font-size="46.1">Sun−time</text>
</svg>
</body></html>
